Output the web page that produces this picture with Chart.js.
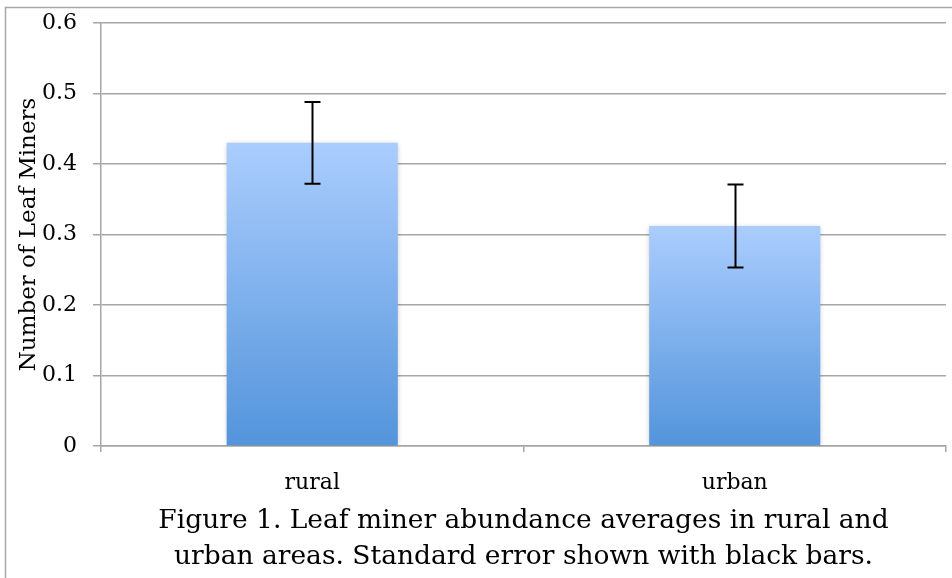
<!DOCTYPE html>
<html>
<head>
<meta charset="utf-8">
<script src="https://cdn.jsdelivr.net/npm/chart.js@4.4.0/dist/chart.umd.min.js"></script>
<style>
  html, body { margin: 0; padding: 0; background: #fff; }
  #wrap { width: 952px; height: 578px; }
</style>
</head>
<body>
<div id="wrap"><canvas id="leaf-chart" width="952" height="578"></canvas></div>
<script>
// values
const categories = ['rural', 'urban'];
const means = [0.43, 0.312];
const stdErrors = [0.058, 0.059];
const yTicks = [0, 0.1, 0.2, 0.3, 0.4, 0.5, 0.6];
const yTitle = 'Number of Leaf Miners';
const captionLines = [
    'Figure 1. Leaf miner abundance averages in rural and',
    'urban areas. Standard error shown with black bars.'
];

const FONT = '"DejaVu Serif", "Liberation Serif", serif';
const GRID = '#a6a6a6';

// thin gray frame on the top and left edge of the picture
const framePlugin = {
    id: 'frame',
    beforeDraw(chart) {
        const ctx = chart.ctx;
        ctx.save();
        ctx.strokeStyle = '#a8a8a8';
        ctx.lineWidth = 1.5;
        ctx.beginPath();
        ctx.moveTo(5.5, chart.height);
        ctx.lineTo(5.5, 7.5);
        ctx.lineTo(chart.width, 7.5);
        ctx.stroke();
        ctx.restore();
    }
};

// soft shadow round the bars
const shadowPlugin = {
    id: 'barShadow',
    beforeDatasetDraw(chart) {
        const ctx = chart.ctx;
        ctx.save();
        ctx.shadowColor = 'rgba(0,0,0,0.25)';
        ctx.shadowBlur = 5;
        ctx.shadowOffsetX = 0;
        ctx.shadowOffsetY = 1;
    },
    afterDatasetDraw(chart) {
        chart.ctx.restore();
    }
};

// standard error whiskers
const errorBarPlugin = {
    id: 'errorBars',
    afterDatasetsDraw(chart) {
        const ctx = chart.ctx;
        const xs = chart.scales.x;
        const ys = chart.scales.y;
        ctx.save();
        ctx.strokeStyle = '#000';
        ctx.lineWidth = 2;
        means.forEach((m, i) => {
            const px = Math.round(xs.getPixelForValue(i)) + 0.5;
            const top = ys.getPixelForValue(m + stdErrors[i]);
            const bot = ys.getPixelForValue(m - stdErrors[i]);
            ctx.beginPath();
            ctx.moveTo(px, top);
            ctx.lineTo(px, bot);
            ctx.moveTo(px - 8, top);
            ctx.lineTo(px + 8, top);
            ctx.moveTo(px - 8, bot);
            ctx.lineTo(px + 8, bot);
            ctx.stroke();
        });
        ctx.restore();
    }
};

function barGradient(context) {
    const chart = context.chart;
    if (!chart.chartArea || context.type !== 'data') return '#80b2ef';
    const ys = chart.scales.y;
    const top = ys.getPixelForValue(context.raw);
    const bottom = ys.getPixelForValue(0);
    const g = chart.ctx.createLinearGradient(0, top, 0, bottom);
    g.addColorStop(0, '#abcdfe');
    g.addColorStop(1, '#5394db');
    return g;
}

const ctx = document.getElementById('leaf-chart').getContext('2d');
new Chart(ctx, {
    type: 'bar',
    data: {
        labels: categories,
        datasets: [{
            data: means,
            backgroundColor: barGradient,
            borderWidth: 0,
            barPercentage: 0.405,
            categoryPercentage: 1
        }]
    },
    options: {
        responsive: false,
        animation: false,
        layout: { padding: { left: 8, top: 23, right: 6, bottom: 0 } },
        plugins: {
            legend: { display: false },
            tooltip: { enabled: false },
            title: {
                display: true,
                position: 'bottom',
                fullSize: false,
                text: captionLines,
                color: '#000',
                font: { family: FONT, size: 26.5, weight: 'normal', lineHeight: 1.36 },
                padding: { top: 0, bottom: 3 }
            }
        },
        scales: {
            x: {
                type: 'category',
                afterFit(scale) { scale.height = 57; },
                grid: {
                    offset: true,
                    drawOnChartArea: false,
                    drawTicks: true,
                    tickLength: 6,
                    color: GRID,
                    lineWidth: 1.5
                },
                border: { color: GRID, width: 1.5 },
                ticks: {
                    color: '#000',
                    padding: 18,
                    font: { family: FONT, size: 22 }
                }
            },
            y: {
                min: 0,
                max: 0.6,
                afterFit(scale) {
                    scale.width = 93;
                    scale.paddingTop = 0;
                    scale.paddingBottom = 0;
                },
                afterBuildTicks(scale) {
                    scale.ticks = yTicks.map(v => ({ value: v }));
                },
                grid: {
                    color: GRID,
                    lineWidth: 1.5,
                    tickLength: 8
                },
                border: { color: GRID, width: 1.5 },
                ticks: {
                    color: '#000',
                    padding: 16,
                    font: { family: FONT, size: 22 },
                    callback: v => String(+v.toFixed(1))
                },
                title: {
                    display: true,
                    text: yTitle,
                    color: '#000',
                    font: { family: FONT, size: 23 },
                    padding: { top: 7, bottom: 0 }
                }
            }
        }
    },
    plugins: [framePlugin, shadowPlugin, errorBarPlugin]
});
</script>
</body>
</html>
